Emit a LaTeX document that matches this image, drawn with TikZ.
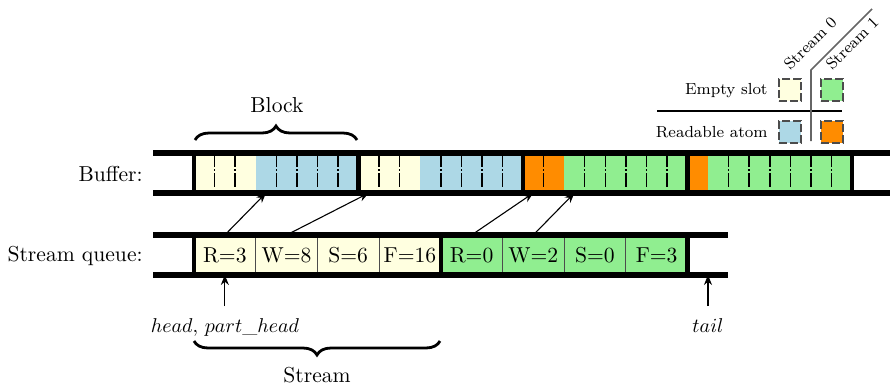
\documentclass[tikz,border=0pt]{standalone}
\usetikzlibrary{arrows.meta,decorations.pathreplacing,calc}
\definecolor{cy}{HTML}{FFFFE0}
\definecolor{cbl}{HTML}{ADD8E6}
\definecolor{cgr}{HTML}{90EE90}
\definecolor{cor}{HTML}{FF8C00}
\begin{document}
\begin{tikzpicture}[x=0.5pt,y=-0.5pt,
  bigtxt/.style={font=\fontsize{10.8pt}{13pt}\selectfont},
  slotbox/.style={inner sep=0pt, outer sep=0pt, minimum width=10.28pt, minimum height=20pt},
  qcell/.style={bigtxt, inner sep=0pt, outer sep=0pt, minimum width=30.84pt, minimum height=20pt, draw=black!70, line width=0.5pt},
  slotsep/.style={line width=0.75pt, dash pattern=on 7pt off 1.2pt on 0.8pt off 1.2pt on 7pt off 20pt},
  railline/.style={line width=2.8pt},
  divline/.style={line width=2.2pt},
  ptr/.style={line width=0.55pt, -{Stealth[length=5pt,width=4pt]}},
  bracedeco/.style={decorate, decoration={brace, amplitude=7pt}, line width=1.4pt},
  legsq/.style={inner sep=0pt, minimum size=11pt, draw=black!70, line width=0.6pt, dash pattern=on 4pt off 1.5pt},
  legtxt/.style={font=\fontsize{8pt}{10pt}\selectfont, inner sep=0pt},
  lbl/.style={inner sep=0pt}]
\useasboundingbox (0,0) rectangle (890,386);

% buffer slots
\foreach \b/\n/\colA/\colB in {0/3/cy/cbl,1/3/cy/cbl,2/2/cor/cgr,3/1/cor/cgr} {
  \foreach \s in {0,...,7} {
    \pgfmathsetmacro\xc{194+\b*164.5+(\s+0.5)*20.5625}
    \ifnum\s<\n \def\col{\colA}\else\def\col{\colB}\fi
    \node[slotbox, fill=\col] (s\b\s) at (\xc,173) {};
  }
}
% dashed slot separators
\foreach \b/\n in {0/3,1/3,2/2,3/1} {
  \foreach \s in {1,...,7} {
    \ifnum\s=\n\else
      \draw[slotsep] (s\b\s.north west) -- (s\b\s.south west);
    \fi
  }
}

% stream queue cells
\foreach \k/\t in {0/{R=3},1/{W=8},2/{S=6},3/{F=16},4/{R=0},5/{W=2},6/{S=0},7/{F=3}} {
  \pgfmathsetmacro\xc{194+(\k+0.5)*61.6875}
  \ifnum\k<4 \def\col{cy}\else\def\col{cgr}\fi
  \node[qcell, fill=\col] (q\k) at (\xc,255) {\t};
}

% pointers from queue to buffer
\draw[ptr] (q0.north) -- (s03.south);
\draw[ptr] (q1.north) -- (s10.south);
\draw[ptr] (q4.north) -- (s20.south);
\draw[ptr] (q5.north) -- (s22.south);

% rails
\draw[railline] (153,153) -- (890,153);
\draw[railline] (153,193) -- (890,193);
\draw[railline] (153,235) -- (728,235);
\draw[railline] (153,275) -- (728,275);
% dividers
\draw[divline] (s00.north west) -- (s00.south west);
\draw[divline] (s10.north west) -- (s10.south west);
\draw[divline] (s20.north west) -- (s20.south west);
\draw[divline] (s30.north west) -- (s30.south west);
\draw[divline] (s37.north east) -- (s37.south east);
\draw[divline] (q0.north west) -- (q0.south west);
\draw[divline] (q4.north west) -- (q4.south west);
\draw[divline] (q7.north east) -- (q7.south east);

% row labels
\node[lbl, bigtxt, anchor=base east] (bufl) at (143,181) {Buffer:};
\node[lbl, bigtxt, anchor=base east] (ql) at (143,261) {Stream queue:};

% head / tail
\node[lbl, anchor=base] (headl) at (225,332) {$head,\,part\_head$};
\node[lbl, anchor=base] (taill) at (708,332) {$tail$};
\coordinate (headfoot) at (q0.south |- 0,306);
\coordinate (tailfoot) at (708,306);
\coordinate (tailtop) at (708,275);
\draw[ptr] (headfoot) -- (q0.south);
\draw[ptr] (tailfoot) -- (tailtop);

% braces
\draw[bracedeco] (195,140) -- (357,140);
\node[lbl, bigtxt, anchor=base] (blockl) at (277,112) {Block};
\draw[bracedeco] (440,341) -- (194,341);
\node[lbl, bigtxt, anchor=base] (streaml) at (317,382) {Stream};

% legend
\draw[line width=0.6pt] (657,111) -- (842,111);
\draw[line width=0.8pt, black!60] (811,141) -- (811,70) -- (872,9);
\node[legsq, fill=cy] (ly) at (790,90) {};
\node[legsq, fill=cgr] (lg) at (832,90) {};
\node[legsq, fill=cbl] (lb) at (790,132) {};
\node[legsq, fill=cor] (lo) at (832,132) {};
\node[legtxt, anchor=base east] (le) at (768,94) {Empty slot};
\node[legtxt, anchor=base east] (lr) at (768,137) {Readable atom};
\node[legtxt, anchor=base west, rotate=45] (l0) at (790,71) {Stream 0};
\node[legtxt, anchor=base west, rotate=45] (l1) at (832,71) {Stream 1};
\end{tikzpicture}
\end{document}
